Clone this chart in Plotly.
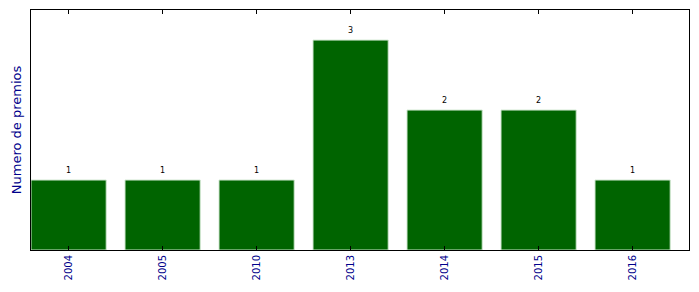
import plotly.graph_objects as go

years = ["2004", "2005", "2010", "2013", "2014", "2015", "2016"]
premios = [1, 1, 1, 3, 2, 2, 1]

fig = go.Figure()
fig.add_trace(go.Bar(
    x=list(range(len(years))), y=premios, width=0.8,
    marker=dict(color="#006400", line=dict(color="#cfe6cf", width=1)),
))
for i, v in enumerate(premios):
    fig.add_annotation(x=i, y=v, text=str(v), showarrow=False, yanchor="bottom",
                       yshift=3, font=dict(size=8, color="black", family="DejaVu Sans"))

fig.update_layout(
    width=699, height=292, margin=dict(l=31, r=10, t=10, b=42),
    paper_bgcolor="white", plot_bgcolor="white", showlegend=False,
    font=dict(family="DejaVu Sans"),
)
fig.update_xaxes(range=[-0.4, 6.6], tickvals=list(range(len(years))), ticktext=years,
                 tickangle=-90, tickfont=dict(size=10, color="#00008b"),
                 ticks="inside", ticklen=4, tickcolor="black", mirror="ticks",
                 showline=True, linecolor="black", linewidth=1, showgrid=False, zeroline=False)
fig.update_yaxes(range=[0, 3.43], showticklabels=False, ticks="", showline=True,
                 linecolor="black", linewidth=1, mirror=True, showgrid=False, zeroline=False,
                 title=dict(text="Numero de premios", font=dict(size=13, color="#00008b"), standoff=5))
fig.write_html("out.html")
